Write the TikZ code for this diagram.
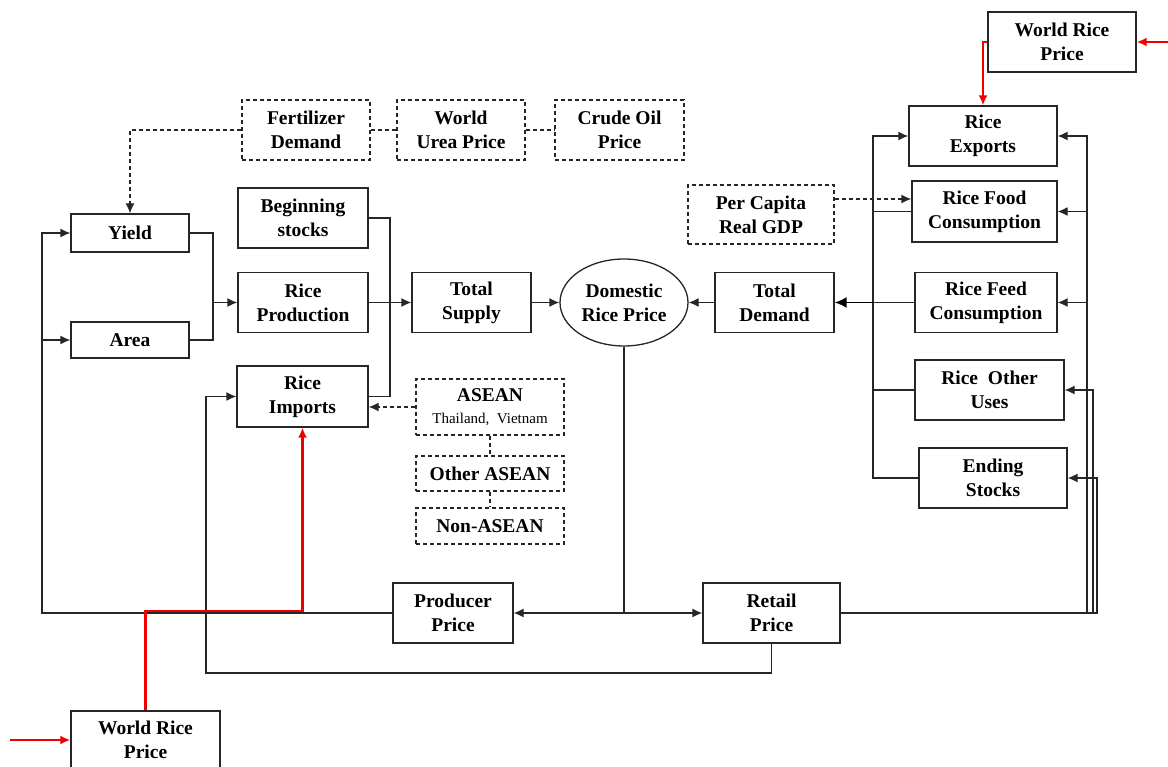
\documentclass[tikz,border=0pt]{standalone}
\usepackage{fontspec}
\setmainfont{Liberation Serif}
\usetikzlibrary{arrows.meta,shapes.geometric,calc}
\begin{document}
\begin{tikzpicture}[x=1pt,y=-1pt,
  bx/.style={draw, line width=1.3pt, draw=black!85, inner sep=0pt, align=center,
    font=\bfseries\fontsize{19.5}{24}\selectfont},
  dbx/.style={bx, dash pattern=on 4pt off 3pt},
  ln/.style={line width=1.3pt, draw=black!85},
  arr/.style={ln, -{Latex[length=10pt,width=9pt]}},
  darr/.style={ln, dash pattern=on 4pt off 3pt, -{Latex[length=10pt,width=9pt]}},
  dln/.style={ln, dash pattern=on 4pt off 3pt},
  rarr/.style={line width=2.2pt, red!95!black, -{Latex[length=10pt,width=9pt]}}]
\useasboundingbox (0,0) rectangle (1168,767);

% nodes
\node[bx, minimum width=148pt, minimum height=60pt] (wrpT) at (1062,42) {World Rice\\Price};
\node[dbx, minimum width=128pt, minimum height=60pt] (fert) at (306,130) {Fertilizer\\Demand};
\node[dbx, minimum width=128pt, minimum height=60pt] (urea) at (461,130) {World\\Urea Price};
\node[dbx, minimum width=129pt, minimum height=60pt] (oil) at (619.5,130) {Crude Oil\\Price};
\node[bx, minimum width=118pt, minimum height=38pt] (yield) at (130,233) {Yield};
\node[bx, minimum width=118pt, minimum height=36pt] (area) at (130,340) {Area};
\node[bx, minimum width=130pt, minimum height=60pt] (beg) at (303,218) {Beginning\\stocks};
\node[bx, minimum width=130pt, minimum height=60pt] (prod) at (303,302.5) {Rice\\Production};
\node[bx, minimum width=131pt, minimum height=61pt] (imp) at (302.5,396.5) {Rice\\Imports};
\node[bx, minimum width=119pt, minimum height=60pt] (supply) at (471.5,302.5) {Total\\Supply};
\node[bx, ellipse, minimum width=128pt, minimum height=87pt] (drp) at (624,302.5) {Domestic\\Rice Price};
\node[bx, minimum width=119pt, minimum height=60pt] (dem) at (774.5,302.5) {Total\\Demand};
\node[dbx, minimum width=146pt, minimum height=59pt] (gdp) at (761,214.5) {Per Capita\\Real GDP};
\node[bx, minimum width=148pt, minimum height=60pt] (exp) at (983,136) {Rice\\Exports};
\node[bx, minimum width=145pt, minimum height=61pt] (food) at (984.5,211.5) {Rice Food\\Consumption};
\node[bx, minimum width=142pt, minimum height=60pt] (feed) at (986,302.5) {Rice Feed\\Consumption};
\node[bx, minimum width=149pt, minimum height=60pt] (other) at (989.5,390) {Rice~ Other\\Uses};
\node[bx, minimum width=148pt, minimum height=60pt] (ending) at (993,478) {Ending\\Stocks};
\node[dbx, minimum width=148pt, minimum height=56pt] (asean) at (490,407)
  {ASEAN\\[-2pt]{\mdseries\fontsize{15}{17}\selectfont Thailand,~ Vietnam}};
\node[dbx, minimum width=148pt, minimum height=35pt] (oasean) at (490,473.5) {Other ASEAN};
\node[dbx, minimum width=148pt, minimum height=36pt] (nasean) at (490,526) {Non-ASEAN};
\node[bx, minimum width=120pt, minimum height=60pt] (prodp) at (453,613) {Producer\\Price};
\node[bx, minimum width=137pt, minimum height=60pt] (retail) at (771.5,613) {Retail\\Price};
\node[bx, minimum width=149pt, minimum height=58pt] (wrpB) at (145.5,740) {World Rice\\Price};

% coordinates
\coordinate (rinT) at (1168,42);
\coordinate (r1) at (983,42);
\coordinate (rinB) at (10,740);
\coordinate (rc) at (145.5,611);
\coordinate (rb) at (302.5,611);
\coordinate (jp) at (213,302.5);
\coordinate (L) at (42,613);
\coordinate (La) at (42,340);
\coordinate (bs) at (390,396.5);
\coordinate (pm) at (624,613);
\coordinate (bl) at (206,673);
\coordinate (R1) at (1087,613);
\coordinate (R2) at (1093,613);
\coordinate (R3) at (1097,613);
\coordinate (Rf) at (1087,211.5);
\coordinate (Rd) at (1087,302.5);
\coordinate (T) at (873,302.5);

% left side
\draw[ln] (yield.east) -| (jp);
\draw[ln] (area.east) -| (jp);
\draw[arr] (jp) -- (prod.west);
\draw[arr] (prodp.west) -- (L) |- (yield.west);
\draw[arr] (La) -- (area.west);
\draw[ln] (beg.east) -| (bs) -- (imp.east);
\draw[arr] (prod.east) -- (supply.west);
\draw[arr] (supply.east) -- (drp.west);
\draw[arr] (dem.west) -- (drp.east);
\draw[ln] (drp.south) -- (pm);
\draw[arr] (pm) -- (prodp.east);
\draw[arr] (pm) -- (retail.west);
\draw[arr] (retail.south) |- (bl) |- (imp.west);

% right side
\draw[arr] (retail.east) -- (R1) |- (exp.east);
\draw[arr] (Rf) -- (food.east);
\draw[arr] (Rd) -- (feed.east);
\draw[arr] (retail.east) -- (R2) |- (other.east);
\draw[arr] (retail.east) -- (R3) |- (ending.east);
\draw[arr] (T) |- (exp.west);
\draw[ln] (food.west) -| (T);
\draw[ln] (feed.west) -- (T);
\draw[ln] (other.west) -| (T);
\draw[ln] (ending.west) -| (T);
\draw[line width=1.8pt, -{Latex[length=12pt,width=11pt]}] (T) -- (dem.east);

% dashed connectors
\draw[darr] (fert.west) -| (yield.north);
\draw[dln] (fert.east) -- (urea.west);
\draw[dln] (urea.east) -- (oil.west);
\draw[darr] ([yshift=15.5pt]gdp.east) -- ([yshift=12.5pt]food.west);
\draw[darr] (asean.west) -- (imp.east |- asean.west);
\draw[dln] (asean.south) -- (oasean.north);
\draw[dln] (oasean.south) -- (nasean.north);

% red connectors
\draw[rarr] (rinT) -- (wrpT.east);
\draw[rarr] (wrpT.west) -- (r1) -- (exp.north);
\draw[rarr] (rinB) -- (wrpB.west);
\draw[rarr] (wrpB.north) -- (rc) -- (rb) -- (imp.south);
\end{tikzpicture}
\end{document}
